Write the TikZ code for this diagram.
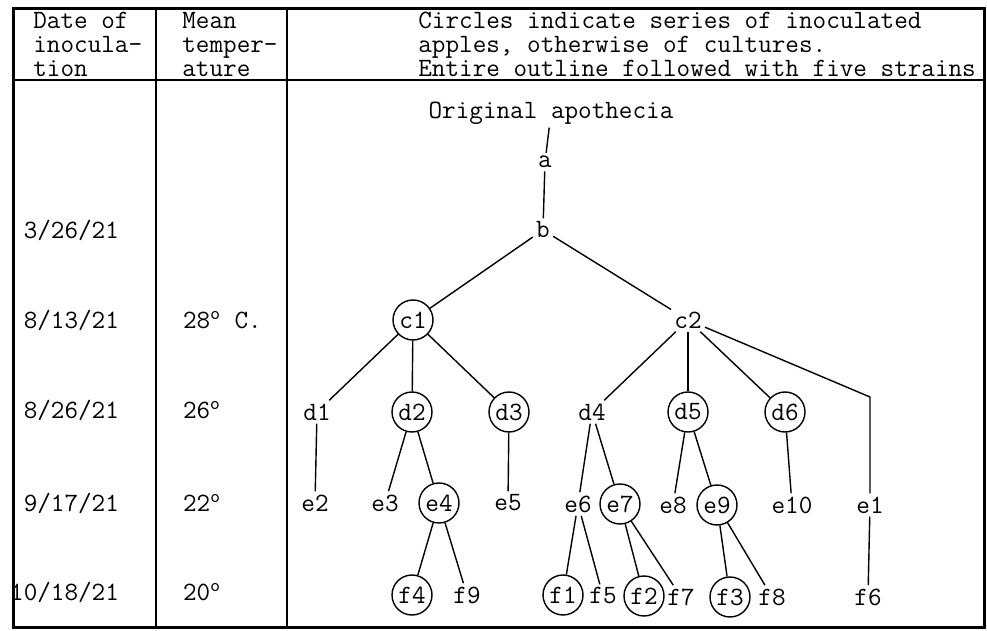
\documentclass[tikz,border=0pt]{standalone}
\usetikzlibrary{positioning}

\begin{document}
\begin{tikzpicture}[x=0.5pt, y=-0.5pt]

    % Styles
    \tikzset{
        every node/.style={font=\ttfamily\fontsize{13.2}{12}\selectfont},
        strain/.style={inner sep=1.5pt},
        apple/.style={circle, draw=black, line width=0.7pt, minimum size=20pt, inner sep=0pt},
        link/.style={line width=0.7pt},
        frame/.style={line width=1.5pt},
        rule/.style={line width=0.6pt},
        cell/.style={anchor=north west, inner sep=0pt, align=left}
    }

    \useasboundingbox (0,0) rectangle (987,631);

    % Table frame
    \draw[frame] (13,9) rectangle (984,627);
    \draw[line width=1.1pt] (13,80) -- (984,80);
    \draw[rule] (156,9) -- (156,627);
    \draw[rule] (287,9) -- (287,627);

    % Header
    \node[cell] (hdate) at (33,12) {Date of\\inocula-\\tion};
    \node[cell] (htemp) at (182,12) {Mean\\temper-\\ature};
    \node[cell] (hnote) at (418,12) {Circles indicate series of inoculated\\apples, otherwise of cultures.\\Entire outline followed with five strains};

    % Dates
    \node[anchor=east] (t1) at (126,230) {3/26/21};
    \node[anchor=east] (t2) at (126,320) {8/13/21};
    \node[anchor=east] (t3) at (126,410) {8/26/21};
    \node[anchor=east] (t4) at (126,503) {9/17/21};
    \node[anchor=east] (t5) at (126,592) {10/18/21};

    % Temperatures
    \node[anchor=west] (m2) at (176,320) {28\textsuperscript{o} C.};
    \node[anchor=west] (m3) at (176,410) {26\textsuperscript{o}};
    \node[anchor=west] (m4) at (176,503) {22\textsuperscript{o}};
    \node[anchor=west] (m5) at (176,592) {20\textsuperscript{o}};

    % Tree
    \node[strain] (orig) at (551,113) {Original apothecia};
    \node[strain] (a) at (545,162) {a};
    \node[strain] (b) at (543,230) {b};

    \node[apple] (c1) at (413,320) {c1};
    \node[strain] (c2) at (688,320) {c2};

    \node[strain] (d1) at (317,412) {d1};
    \node[apple] (d2) at (412,412) {d2};
    \node[apple] (d3) at (509,412) {d3};
    \node[strain] (d4) at (592,412) {d4};
    \node[apple] (d5) at (688,412) {d5};
    \node[apple] (d6) at (785,412) {d6};
    \coordinate (bend) at (870,397);

    \node[strain] (e2) at (315,503) {e2};
    \node[strain] (e3) at (385,503) {e3};
    \node[apple] (e4) at (439,503) {e4};
    \node[strain] (e5) at (508,503) {e5};
    \node[strain] (e6) at (578,504) {e6};
    \node[apple] (e7) at (620,504) {e7};
    \node[strain] (e8) at (673,505) {e8};
    \node[apple] (e9) at (717,505) {e9};
    \node[strain] (e10) at (792,505) {e10};
    \node[strain] (e1) at (870,505) {e1};

    \node[apple] (f4) at (412,595) {f4};
    \node[strain] (f9) at (467,595) {f9};
    \node[apple] (f1) at (563,595) {f1};
    \node[strain] (f5) at (603,596) {f5};
    \node[apple] (f2) at (644,596) {f2};
    \node[strain] (f7) at (681,597) {f7};
    \node[apple] (f3) at (730,597) {f3};
    \node[strain] (f8) at (772,597) {f8};
    \node[strain] (f6) at (868,597) {f6};

    % Connections
    \draw[link] (orig) -- (a);
    \draw[link] (a) -- (b);
    \draw[link] (b) -- (c1);
    \draw[link] (b) -- (c2);
    \foreach \kid in {d1,d2,d3} \draw[link] (c1) -- (\kid);
    \foreach \kid in {d4,d5,d6} \draw[link] (c2) -- (\kid);
    \draw[link] (c2) -- (bend) -- (e1);
    \draw[link] (d1) -- (e2);
    \draw[link] (d2) -- (e3);
    \draw[link] (d2) -- (e4);
    \draw[link] (d3) -- (e5);
    \draw[link] (d4) -- (e6);
    \draw[link] (d4) -- (e7);
    \draw[link] (d5) -- (e8);
    \draw[link] (d5) -- (e9);
    \draw[link] (d6) -- (e10);
    \draw[link] (e4) -- (f4);
    \draw[link] (e4) -- (f9);
    \draw[link] (e6) -- (f1);
    \draw[link] (e6) -- (f5);
    \draw[link] (e7) -- (f2);
    \draw[link] (e7) -- (f7);
    \draw[link] (e9) -- (f3);
    \draw[link] (e9) -- (f8);
    \draw[link] (e1) -- (f6);

\end{tikzpicture}
\end{document}
